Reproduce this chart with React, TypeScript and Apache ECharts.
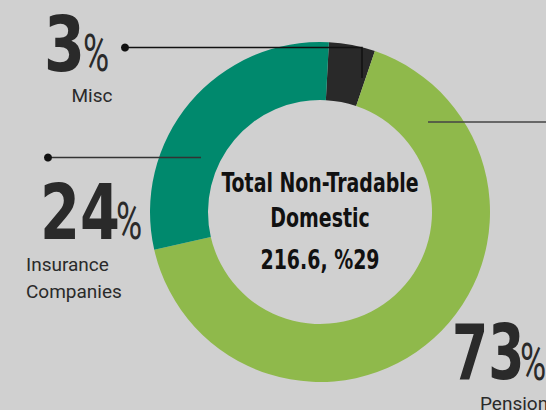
import React, { useEffect, useRef } from "react";
import * as echarts from "echarts";

const categories = ["Misc", "Pensions", "Insurance Companies"];
// slice sizes as drawn in the ring (as % of the circle)
const sliceValues = [4.4, 66.2, 29.4];
// percentages printed in the labels
const labelPercents = ["3", "73", "24"];
const centerLines = ["Total Non-Tradable", "Domestic", "216.6, %29"];

const sliceColors = ["#292929", "#8fb94b", "#00896d"];
const NARROW = "'DejaVu Sans Condensed', 'DejaVu Sans', sans-serif";
const SANS = "Roboto, 'Liberation Sans', Arial, sans-serif";

export default function App() {
  const ref = useRef<HTMLDivElement>(null);
  useEffect(() => {
    if (!ref.current) return;
    const chart = echarts.init(ref.current, undefined, { renderer: "svg" });
    const bigNum = (text: string, x: number, y: number, sx: number) => ({
      type: "text",
      x,
      y,
      z: 100,
      scaleX: sx,
      style: {
        text,
        fontFamily: NARROW,
        fontWeight: "bold",
        fontSize: 76,
        fill: "#2a2a2a",
        align: "left",
        verticalAlign: "middle",
      },
    });
    const pct = (x: number, y: number) => ({
      type: "text",
      x,
      y,
      z: 100,
      scaleX: 0.7,
      style: {
        text: "%",
        fontFamily: SANS,
        fontWeight: "normal",
        fontSize: 51,
        fill: "#2a2a2a",
        align: "left",
        verticalAlign: "middle",
      },
    });
    const small = (text: string, x: number, y: number, align = "left") => ({
      type: "text",
      x,
      y,
      z: 100,
      style: {
        text,
        fontFamily: SANS,
        fontSize: 19,
        fill: "#2a2a2a",
        align,
        verticalAlign: "middle",
      },
    });
    const centerText = (text: string, y: number) => ({
      type: "text",
      x: 320,
      y,
      z: 100,
      scaleX: 0.78,
      style: {
        text,
        fontFamily: NARROW,
        fontWeight: "bold",
        fontSize: 27,
        fill: "#111111",
        align: "center",
        verticalAlign: "middle",
      },
    });
    chart.setOption({
      animation: false,
      backgroundColor: "#d0d0d0",
      series: [
        {
          type: "pie",
          center: [320, 212],
          radius: [112, 170],
          startAngle: 87,
          clockwise: true,
          silent: true,
          label: { show: false },
          labelLine: { show: false },
          data: categories.map((name, i) => ({
            name,
            value: sliceValues[i],
            itemStyle: { color: sliceColors[i] },
          })),
        },
      ],
      graphic: [
        // leader lines
        {
          type: "polyline",
          z: 90,
          shape: { points: [[125, 47.5], [362, 47.5], [362, 78]] },
          style: { stroke: "#111", lineWidth: 1.5, fill: null },
        },
        { type: "circle", z: 90, shape: { cx: 125, cy: 47.5, r: 4 }, style: { fill: "#111" } },
        {
          type: "line",
          z: 90,
          shape: { x1: 48, y1: 157.5, x2: 201, y2: 157.5 },
          style: { stroke: "#333", lineWidth: 1.5 },
        },
        { type: "circle", z: 90, shape: { cx: 48, cy: 157.5, r: 4 }, style: { fill: "#111" } },
        {
          type: "line",
          z: 90,
          shape: { x1: 428, y1: 122, x2: 546, y2: 122 },
          style: { stroke: "#444", lineWidth: 1.5 },
        },
        // Misc
        bigNum(labelPercents[0], 44, 45, 0.86),
        pct(83, 54),
        small(categories[0], 92, 95, "center"),
        // Insurance
        bigNum(labelPercents[2], 40, 213, 0.84),
        pct(116, 222),
        small("Insurance", 26, 264),
        small("Companies", 26, 291),
        // Pensions
        bigNum(labelPercents[1], 452, 353, 0.76),
        pct(520, 363),
        small(categories[1], 480, 403),
        // center
        centerText(centerLines[0], 183),
        centerText(centerLines[1], 218),
        centerText(centerLines[2], 260),
      ],
    });
    return () => chart.dispose();
  }, []);
  return (
    <div
      ref={ref}
      style={{ position: "fixed", left: 0, top: 0, width: 546, height: 410 }}
    />
  );
}
